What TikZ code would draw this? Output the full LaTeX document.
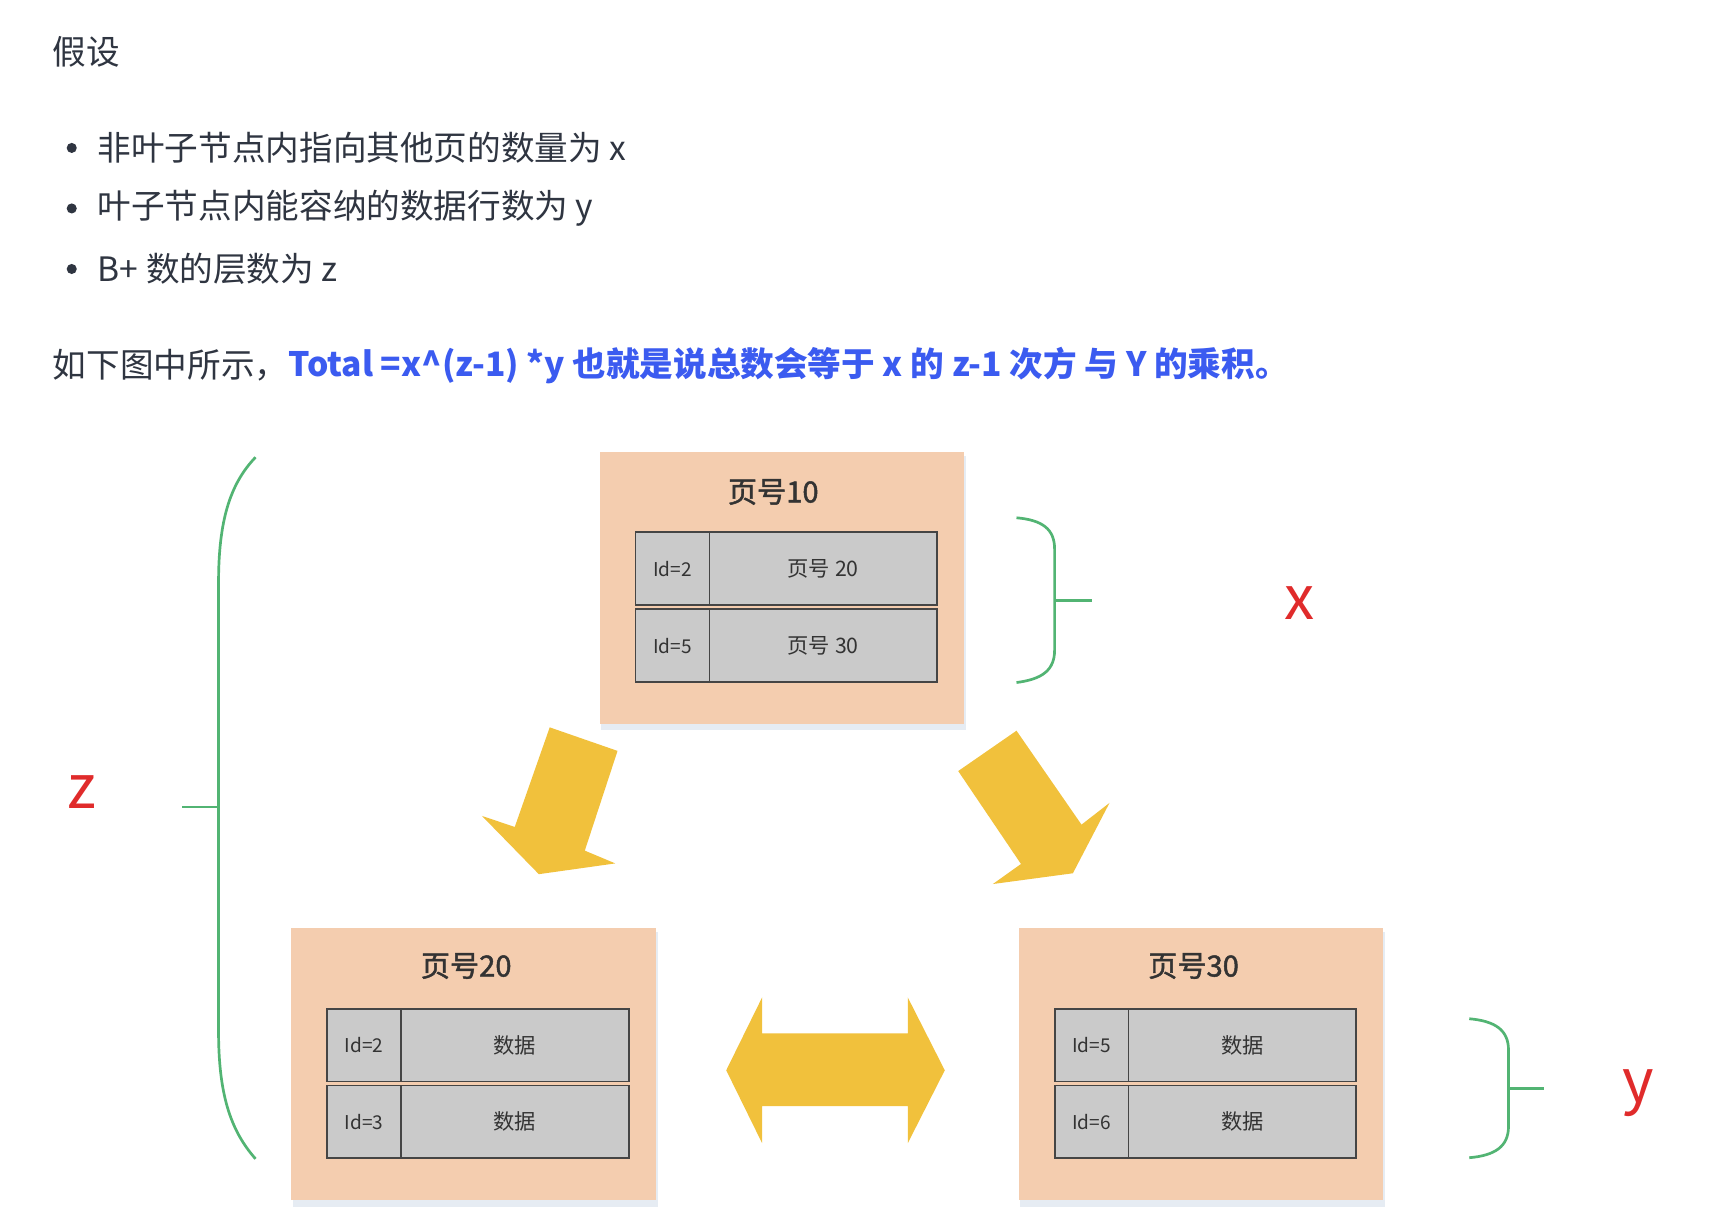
\documentclass[tikz,border=0pt]{standalone}
\usepackage{fontspec}
\setmainfont{Noto Sans CJK SC}
\newfontfamily\semibold[FakeBold=1.6]{Noto Sans CJK SC}
\definecolor{bodytext}{HTML}{2F3541}
\definecolor{linkblue}{HTML}{3B5BF0}
\definecolor{peach}{HTML}{F4CDAF}
\definecolor{pageshadow}{HTML}{E6ECF3}
\definecolor{cellgray}{HTML}{CACACA}
\definecolor{cellline}{HTML}{454545}
\definecolor{flow}{HTML}{F1C13C}
\definecolor{bracecol}{HTML}{52B473}
\definecolor{varred}{HTML}{E02B2B}
\begin{document}
\begin{tikzpicture}[x=1pt,y=-1pt,
  bodyline/.style={font=\fontsize{30}{36}\selectfont,text=bodytext,anchor=west,inner sep=0pt},
  page/.style={fill=peach,minimum width=325pt,minimum height=243pt,inner sep=0pt},
  pagetitle/.style={font=\fontsize{26}{30}\selectfont\semibold,text=black!80},
  idcell/.style={draw=cellline,line width=1.6pt,fill=cellgray,minimum width=66pt,minimum height=65pt,inner sep=0pt,font=\fontsize{17}{20}\selectfont,text=black!80},
  datacell/.style={idcell,minimum width=203pt,font=\fontsize{19}{22}\selectfont},
  bracket/.style={draw=bracecol,line width=2.4pt},
  varname/.style={font=\fontsize{54}{54}\selectfont,text=varred,inner sep=0pt}]
 \fill[white] (0,0) rectangle (1549,1088.6);
 \useasboundingbox (0,0) rectangle (1549,1088.6);
 % text above the diagram
 \node[bodyline] (assume) at (47,46) {假设};
 \fill[bodytext] (64,132) circle (4.5);
 \node[bodyline] (item1) at (87,132) {非叶子节点内指向其他页的数量为 x};
 \fill[bodytext] (64,186) circle (4.5);
 \node[bodyline] (item2) at (87,186) {叶子节点内能容纳的数据行数为 y};
 \fill[bodytext] (64,240) circle (4.5);
 \node[bodyline] (item3) at (87,240) {B+ 数的层数为 z};
 \node[bodyline] (lead) at (47,326) {如下图中所示，};
 \node[bodyline,text=linkblue,font=\fontsize{30}{36}\selectfont\bfseries] (formula) at (lead.east) {Total =x\textasciicircum(z-1) *y 也就是说总数会等于 x 的 z-1 次方 与 Y 的乘积。};
 % page 10
 \fill[pageshadow] (536,407) rectangle (862,651);
 \node[page] (pg10) at (697.5,524.5) {};
 \node[pagetitle] (t10) at (690,439) {页号10};
 \node[idcell] (a10) at (600,507.5) {Id=2};
 \node[datacell] (b10) at (734.5,507.5) {页号 20};
 \node[idcell] (c10) at (600,576) {Id=5};
 \node[datacell] (d10) at (734.5,576) {页号 30};
 % page 20
 \fill[pageshadow] (261,832) rectangle (587,1077);
 \node[page] (pg20) at (422.5,949.5) {};
 \node[pagetitle] (t20) at (416,862) {页号20};
 \node[idcell] (a20) at (325,932.5) {Id=2};
 \node[datacell] (b20) at (459.5,932.5) {数据};
 \node[idcell] (c20) at (325,1001) {Id=3};
 \node[datacell] (d20) at (459.5,1001) {数据};
 % page 30
 \fill[pageshadow] (910,832) rectangle (1236,1077);
 \node[page] (pg30) at (1071.5,949.5) {};
 \node[pagetitle] (t30) at (1065,862) {页号30};
 \node[idcell] (a30) at (974,932.5) {Id=5};
 \node[datacell] (b30) at (1108.5,932.5) {数据};
 \node[idcell] (c30) at (974,1001) {Id=6};
 \node[datacell] (d30) at (1108.5,1001) {数据};
 % yellow arrows
 \fill[flow] (490.5,649)--(551,670)--(521.8,759)--(549,770.4)--(480.8,780)--(430,728)--(459.3,737.9)--cycle;
 \fill[flow] (855,688)--(907,652)--(965,735.8)--(990,716.4)--(957.3,779.2)--(885.9,788.8)--(911,770.9)--cycle;
 \fill[flow] (648,955)--(680,890)--(680,922)--(810,922)--(810,890)--(843,955)--(810,1020)--(810,987)--(680,987)--(680,1020)--cycle;
 % braces
 \draw[bracket] (228,408) .. controls (205,432) and (195,465) .. (195,520) -- (195,920) .. controls (195,975) and (205,1008) .. (228,1034);
 \draw[bracket] (195,720) -- (162,720);
 \draw[bracket] (907,462) .. controls (930,464) and (941,472) .. (941,490) -- (941,580) .. controls (941,598) and (930,606) .. (907,609);
 \draw[bracket] (941,536) -- (974,536);
 \draw[bracket] (1311,909) .. controls (1334,911) and (1346,919) .. (1346,937) -- (1346,1005) .. controls (1346,1023) and (1334,1031) .. (1311,1033);
 \draw[bracket] (1346,971) -- (1378,971);
 \node[varname] (zlab) at (73,707) {z};
 \node[varname] (xlab) at (1160,538) {x};
 \node[varname] (ylab) at (1462,975) {y};
\end{tikzpicture}
\end{document}
